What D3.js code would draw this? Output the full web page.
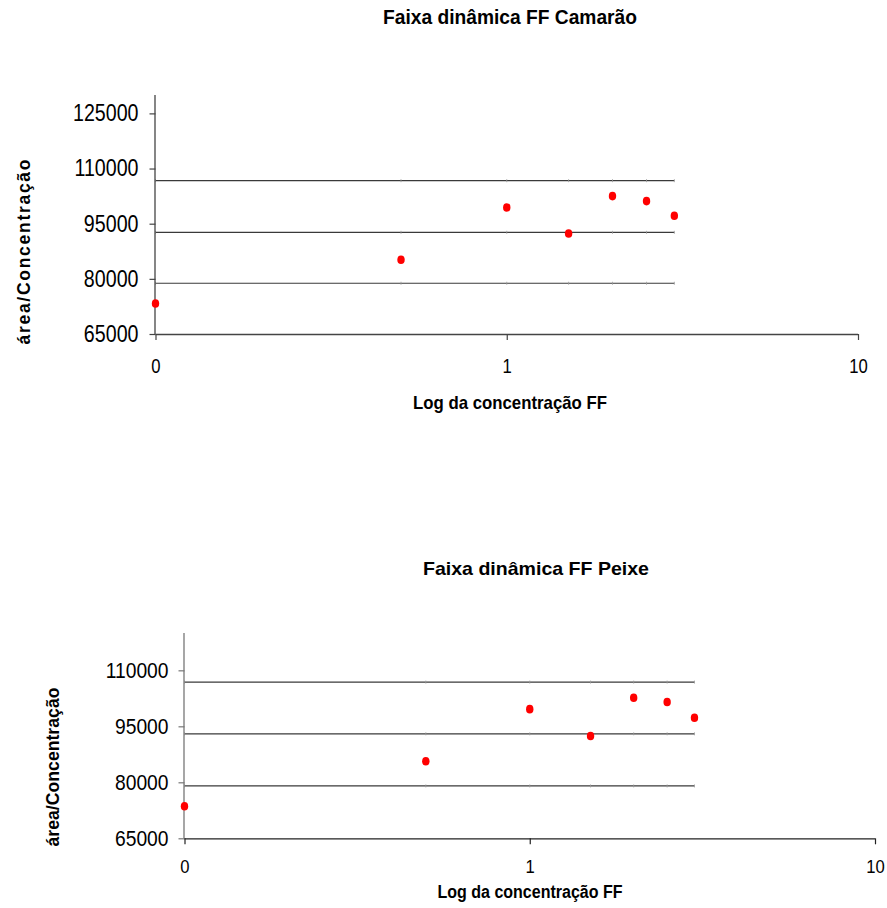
<!DOCTYPE html>
<html>
<head>
<meta charset="utf-8">
<script src="https://cdn.jsdelivr.net/npm/d3@7"></script>
<style>
  body { margin: 0; background: #fff; }
  svg { display: block; font-family: "Liberation Sans", Arial, sans-serif; }
</style>
</head>
<body>
<svg id="chart" width="887" height="908"></svg>
<script>
// Concentrations (x, log scale) shared by both samples
const concentracoes = [0.1, 0.5, 1, 1.5, 2, 2.5, 3];

// Shrimp (camarão) response factors and band lines
const camarao = [73300, 85200, 99400, 92350, 102500, 101150, 97150];
const camaraoLimSup = [106700, 106700, 106700, 106700, 106700, 106700, 106700];
const camaraoMedia = [92650, 92650, 92650, 92650, 92650, 92650, 92650];
const camaraoLimInf = [78800, 78800, 78800, 78800, 78800, 78800, 78800];

// Fish (peixe) response factors and band lines
const peixe = [73600, 85650, 99600, 92400, 102650, 101500, 97300];
const peixeLimSup = [106850, 106850, 106850, 106850, 106850, 106850, 106850];
const peixeMedia = [92990, 92990, 92990, 92990, 92990, 92990, 92990];
const peixeLimInf = [79030, 79030, 79030, 79030, 79030, 79030, 79030];

// Axis ticks
const xTicks = [0.1, 1, 10];
const yTicksCamarao = [65000, 80000, 95000, 110000, 125000];
const yTicksPeixe = [65000, 80000, 95000, 110000];

const svg = d3.select("#chart");

function panel(cfg) {
  const g = svg.append("g");
  const x = d3.scaleLog().domain([0.1, 10]).range([cfg.x0, cfg.x1]);
  const y = d3.scaleLinear().domain(cfg.yDomain).range([cfg.yBottom, cfg.yTop]);

  // Band lines: upper limit, mean, lower limit
  const line = d3.line().x((d, i) => x(concentracoes[i])).y(d => y(d));
  [cfg.limSup, cfg.media, cfg.limInf].forEach(s => {
    g.append("path").datum(s).attr("d", line)
      .attr("fill", "none").attr("stroke", "#3a3a3a").attr("stroke-width", 1.2);
    g.selectAll(null).data(s).enter().append("line")
      .attr("x1", (d, i) => x(concentracoes[i])).attr("x2", (d, i) => x(concentracoes[i]))
      .attr("y1", d => y(d) - 1.5).attr("y2", d => y(d) + 1.5)
      .attr("stroke", "#9a9a9a").attr("stroke-width", 0.8);
  });

  // Y axis
  const sy = cfg.yScaleX;
  const ya = g.append("g").attr("transform", `translate(${cfg.x0},0)`)
    .call(d3.axisLeft(y).tickValues(cfg.yTicks).tickSize(6).tickPadding(0).tickFormat(d3.format("d")));
  ya.select(".domain").attr("stroke", cfg.yAxisColor).attr("stroke-width", 1.3).attr("d", `M-0.5,${cfg.yBottom}V${cfg.yTop}`);
  ya.selectAll(".tick line").attr("stroke", cfg.yAxisColor).attr("stroke-width", 1.2);
  ya.selectAll(".tick text")
    .attr("font-size", cfg.yFont).attr("fill", "#000")
    .attr("font-family", "'Liberation Sans', Arial, sans-serif")
    .attr("x", -cfg.yLabelGap / sy).attr("transform", `scale(${sy},1)`);

  // X axis
  const xa = g.append("g").attr("transform", `translate(0,${cfg.yBottom})`)
    .call(d3.axisBottom(x).tickValues(xTicks).tickSize(6).tickPadding(cfg.xPad).tickFormat(d3.format(".0f")));
  xa.select(".domain").attr("stroke", cfg.xAxisColor).attr("stroke-width", 1.3).attr("d", `M${cfg.x0},0.5H${cfg.x1}`);
  xa.selectAll(".tick line").attr("stroke", cfg.xAxisColor).attr("stroke-width", 1.2);
  xa.selectAll(".tick text")
    .attr("font-size", cfg.xFont).attr("fill", "#000")
    .attr("font-family", "'Liberation Sans', Arial, sans-serif")
    .attr("x", 0).attr("transform", `scale(${sy},1)`);

  // Data points
  g.selectAll(null).data(cfg.values).enter().append("ellipse")
    .attr("cx", (d, i) => x(concentracoes[i])).attr("cy", d => y(d))
    .attr("rx", 3.7).attr("ry", 4.3).attr("fill", "#ff0000");

  // Titles
  const bold = (txt, px, x0, y0, len, rot, adjust) => {
    const t = g.append("text").text(txt)
      .attr("font-size", px).attr("font-weight", "bold").attr("fill", "#000")
      .attr("text-anchor", "middle")
      .attr("textLength", len).attr("lengthAdjust", adjust || "spacingAndGlyphs");
    if (rot) t.attr("transform", `translate(${x0},${y0}) rotate(-90)`);
    else t.attr("x", x0).attr("y", y0);
  };
  bold(cfg.title, cfg.titleFont, cfg.titleX, cfg.titleY, cfg.titleLen);
  bold("Log da concentração FF", cfg.xLabFont, cfg.xLabX, cfg.xLabY, cfg.xLabLen);
  bold("área/Concentração", cfg.yLabFont, cfg.yLabX, cfg.yLabY, cfg.yLabLen, true, cfg.yLabAdjust);
}

panel({
  title: "Faixa dinâmica FF Camarão", titleFont: 20, titleX: 510, titleY: 24, titleLen: 254,
  xLabFont: 18.5, xLabX: 510, xLabY: 409, xLabLen: 194,
  yLabFont: 17.5, yLabX: 30, yLabY: 252, yLabLen: 185, yLabAdjust: "spacing",
  x0: 155.5, x1: 858, yBottom: 334, yTop: 95, yDomain: [65000, 130000],
  yTicks: yTicksCamarao, yFont: 23, yScaleX: 0.855, yLabelGap: 17,
  xFont: 19.5, xPad: 19,
  yAxisColor: "#444", xAxisColor: "#444",
  values: camarao, limSup: camaraoLimSup, media: camaraoMedia, limInf: camaraoLimInf
});

panel({
  title: "Faixa dinâmica FF Peixe", titleFont: 19, titleX: 536, titleY: 575, titleLen: 226,
  xLabFont: 18, xLabX: 530, xLabY: 898, xLabLen: 185,
  yLabFont: 17.5, yLabX: 59, yLabY: 767, yLabLen: 159,
  x0: 184.5, x1: 875, yBottom: 838.3, yTop: 633, yDomain: [65000, 120000],
  yTicks: yTicksPeixe, yFont: 22, yScaleX: 0.875, yLabelGap: 16,
  xFont: 19, xPad: 15,
  yAxisColor: "#777", xAxisColor: "#222",
  values: peixe, limSup: peixeLimSup, media: peixeMedia, limInf: peixeLimInf
});
</script>
</body>
</html>
